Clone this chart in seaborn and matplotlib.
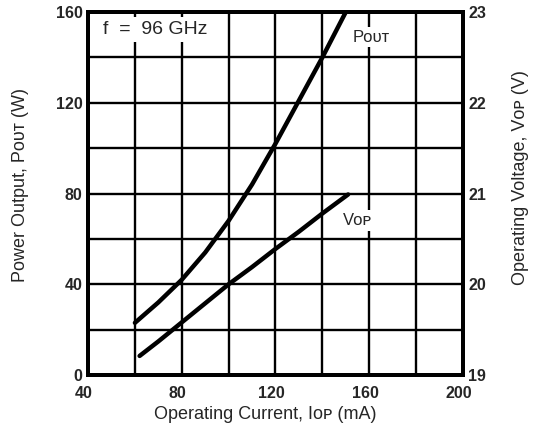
import matplotlib
matplotlib.use("Agg")
import matplotlib.pyplot as plt
import matplotlib.transforms as mtransforms
import seaborn as sns
import pandas as pd
from matplotlib.ticker import MultipleLocator

# Data
pout_current = [60, 70, 80, 90, 100, 110, 120, 130, 140, 150]
pout_watts = [23, 32, 42, 54, 68, 84, 102, 121, 140, 160]

vop_current = [62, 70, 80, 90, 100, 110, 120, 130, 140, 151]
vop_volts = [19.21, 19.37, 19.58, 19.79, 20.0, 20.19, 20.39, 20.58, 20.78, 20.99]

x_ticks = [40, 80, 120, 160, 200]
left_ticks = [0, 40, 80, 120, 160]
right_ticks = [19, 20, 21, 22, 23]

sns.set_style("white")
plt.rcParams['font.family'] = ['Liberation Sans', 'DejaVu Sans']

fig = plt.figure(figsize=(5.37, 4.32), dpi=100)
ax = fig.add_axes([0.164, 0.132, 0.698, 0.840])
ax2 = ax.twinx()

df_p = pd.DataFrame({"I": pout_current, "P": pout_watts})
df_v = pd.DataFrame({"I": vop_current, "V": vop_volts})

sns.lineplot(data=df_p, x="I", y="P", ax=ax, color="black", linewidth=3.2, zorder=5)
sns.lineplot(data=df_v, x="I", y="V", ax=ax2, color="black", linewidth=3.2, zorder=5)

ax.set_xlim(40, 200)
ax.set_ylim(0, 160)
ax2.set_ylim(19, 23)

ax.set_xticks(x_ticks)
ax.set_yticks(left_ticks)
ax2.set_yticks(right_ticks)
ax.xaxis.set_minor_locator(MultipleLocator(20))
ax.yaxis.set_minor_locator(MultipleLocator(20))

ax.grid(True, which="both", color="black", linewidth=1.7)
ax2.grid(False)
ax.set_axisbelow(True)

for a in (ax, ax2):
    for s in a.spines.values():
        s.set_linewidth(2.8)
        s.set_color("black")
    a.tick_params(which="both", length=0, labelsize=11.5, pad=4)
ax.tick_params(axis="x", pad=8)

shift = mtransforms.ScaledTranslation(-4 / 100, 0, fig.dpi_scale_trans)
for lbl in ax.get_xticklabels():
    lbl.set_transform(lbl.get_transform() + shift)

for lbl in ax.get_xticklabels() + ax.get_yticklabels() + ax2.get_yticklabels():
    lbl.set_fontweight("bold")

ax.set_xlabel("Operating Current, I\u1d0f\u1d18 (mA)", fontsize=13)
ax.set_ylabel("Power Output, P\u1d0f\u1d1c\u1d1b (W)", fontsize=13)
ax2.set_ylabel("Operating Voltage, V\u1d0f\u1d18 (V)", fontsize=13)
ax.xaxis.set_label_coords(0.472, -0.085)
ax.yaxis.set_label_coords(-0.158, 0.523)
ax2.yaxis.set_label_coords(1.13, 0.545)

ax.text(46.4, 152.5, "f  =  96 GHz", fontsize=14, va="center", ha="left", zorder=6,
        bbox=dict(facecolor="white", edgecolor="none", pad=3))
ax.text(161, 149, "P\u1d0f\u1d1c\u1d1b", fontsize=12, va="center", ha="center", zorder=6,
        bbox=dict(facecolor="white", edgecolor="none", pad=2))
ax.text(155, 68, "V\u1d0f\u1d18", fontsize=12, va="center", ha="center", zorder=6,
        bbox=dict(facecolor="white", edgecolor="none", pad=2))

fig.savefig("out.png", dpi=100)
